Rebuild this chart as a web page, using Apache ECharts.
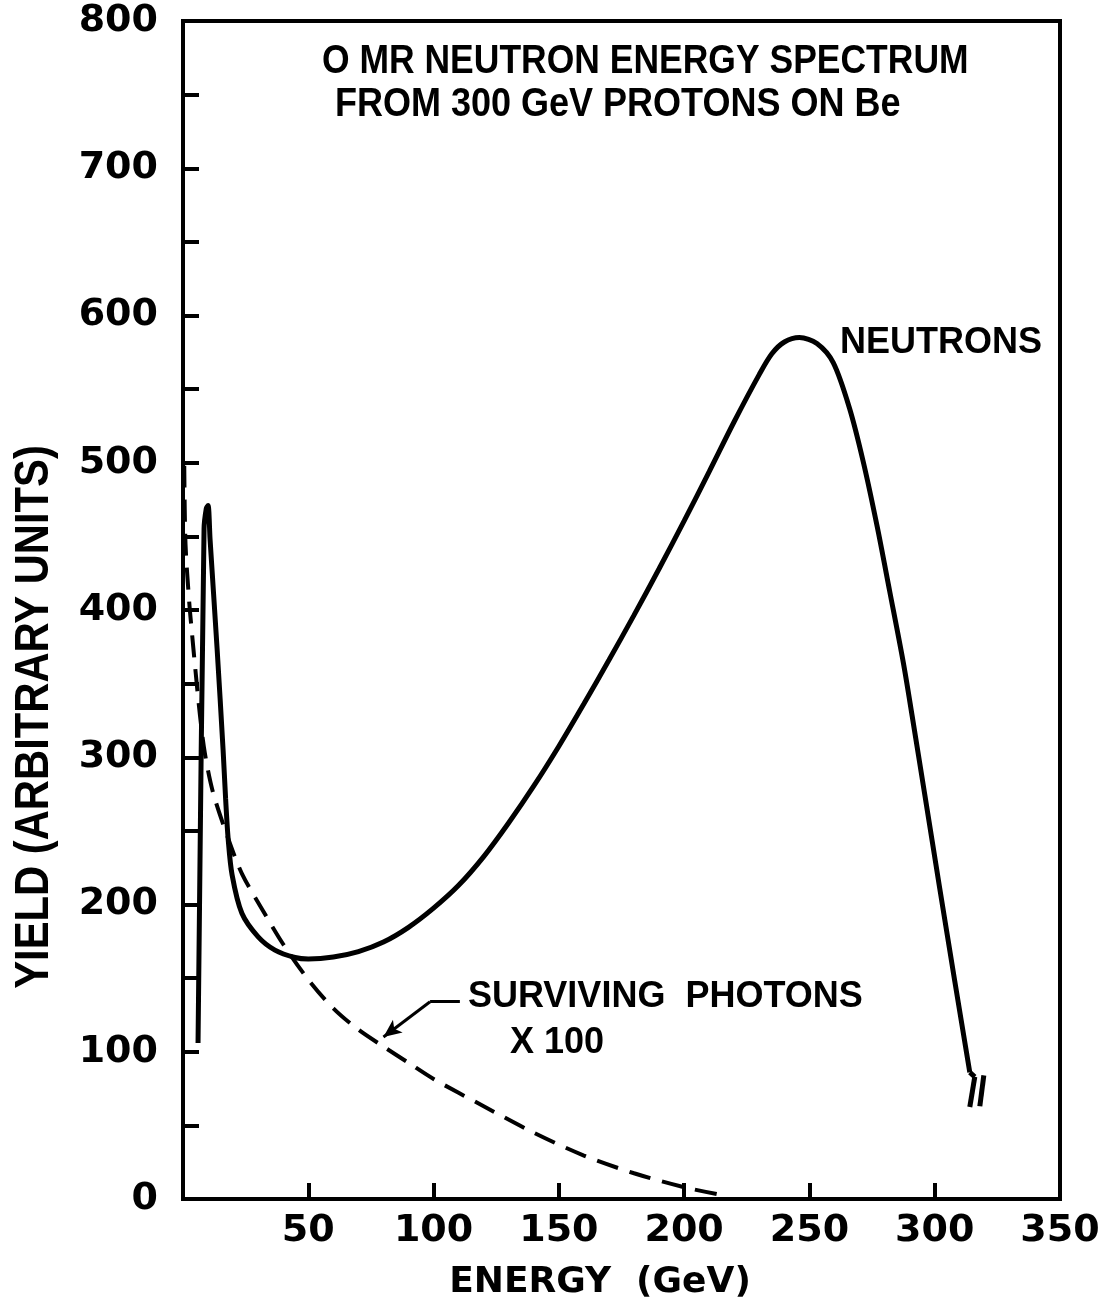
<!DOCTYPE html>
<html>
<head>
<meta charset="utf-8">
<title>0 MR neutron energy spectrum</title>
<script src="https://cdn.jsdelivr.net/npm/echarts@6/dist/echarts.min.js"></script>
<style>
  html, body { margin: 0; padding: 0; background: #fff; }
  #main { width: 1114px; height: 1307px; }
</style>
</head>
<body>
<div id="main"></div>
<script>
// values: energy (GeV) / yield (arbitrary units)
var neutronEnergy = [6, 8.4, 9.3, 10, 10.8, 13.6, 16, 17, 18, 19.6, 23.5, 30, 36.7, 44.7, 50, 60, 70, 80, 90, 100, 110, 120, 130, 140, 150, 160, 170, 180, 190, 200, 210, 220, 230, 235, 240, 246, 253, 259.5, 266, 271.5, 277, 282, 287.5, 291, 296, 302, 308, 314];
var neutronYield  = [106, 455, 469, 471, 448, 374, 305, 272, 245, 220, 194, 178, 169, 164, 163, 164.3, 168, 174.5, 184.5, 197.5, 213, 232.5, 255.5, 280.5, 307.5, 336.3, 366, 396.5, 428, 460.5, 494, 528, 560, 574, 582, 585, 581, 568, 537, 500.5, 457, 413, 364, 328, 275, 211, 148, 86];

// surviving photons x 100 (dashed)
var photonEnergy = [0.5, 1, 2.5, 3.6, 4.8, 6.8, 8.8, 12, 18, 23.5, 31.5, 40, 50, 60, 70, 80, 90, 100, 120, 140, 160, 180, 200, 214];
var photonYield  = [498, 445, 405, 384, 362, 328, 302, 276, 245, 221, 197, 173, 149, 129.5, 115, 103.5, 92.5, 81.5, 63, 45, 29.5, 17.5, 8, 3];

var xTickLabels = [50, 100, 150, 200, 250, 300, 350];
var yTickLabels = [0, 100, 200, 300, 400, 500, 600, 700, 800];

// the "//" break after the neutron curve, and the leader to the photon curve
var breakMarkA = [[316, 83], [314, 62.5]];
var breakMarkB = [[319.6, 84], [318, 63]];
var leaderPath = [[110.5, 134], [98.6, 134], [80, 110]];

function pairs(xs, ys) {
  return xs.map(function (x, i) { return [x, ys[i]]; });
}

var numFont = { color: '#000', fontFamily: 'DejaVu Sans', fontWeight: 'bold', fontSize: 38 };
var sansBold = '"Liberation Sans", "DejaVu Sans", sans-serif';

var myChart = echarts.init(document.getElementById('main'));

var option = {
  animation: false,
  backgroundColor: '#fff',
  grid: {
    left: 183, right: 54, top: 21, bottom: 108,
    show: true, borderColor: '#000', borderWidth: 4, backgroundColor: 'transparent'
  },
  xAxis: {
    type: 'value', min: 0, max: 350, interval: 50,
    splitLine: { show: false },
    axisLine: { lineStyle: { color: '#000', width: 4 } },
    axisTick: { inside: true, length: 16, lineStyle: { color: '#000', width: 4 } },
    axisLabel: Object.assign({
      margin: 13, showMaxLabel: true,
      formatter: function (v) { return xTickLabels.indexOf(v) >= 0 ? String(v) : ''; }
    }, numFont)
  },
  yAxis: {
    type: 'value', min: 0, max: 800, interval: 50,
    splitLine: { show: false },
    axisLine: { lineStyle: { color: '#000', width: 4 } },
    axisTick: { inside: true, length: 16, lineStyle: { color: '#000', width: 4 } },
    axisLabel: Object.assign({
      margin: 25,
      formatter: function (v) { return yTickLabels.indexOf(v) >= 0 ? String(v) : ''; }
    }, numFont)
  },
  series: [
    {
      name: 'NEUTRONS',
      type: 'line',
      data: pairs(neutronEnergy, neutronYield),
      smooth: 0.3,
      symbol: 'none',
      lineStyle: { color: '#000', width: 5 },
      markLine: {
        silent: true,
        symbol: ['none', 'none'],
        label: { show: false },
        lineStyle: { color: '#000', width: 5, type: 'solid' },
        data: [
          [{ coord: [neutronEnergy[neutronEnergy.length - 1], neutronYield[neutronYield.length - 1]] }, { coord: breakMarkA[0] }],
          [{ coord: breakMarkA[0] }, { coord: breakMarkA[1] }],
          [{ coord: breakMarkB[0] }, { coord: breakMarkB[1] }]
        ]
      }
    },
    {
      name: 'SURVIVING PHOTONS X 100',
      type: 'line',
      data: pairs(photonEnergy, photonYield),
      smooth: 0.3,
      symbol: 'none',
      lineStyle: { color: '#000', width: 4, type: [22, 12] },
      markLine: {
        silent: true,
        symbol: ['none', 'none'],
        label: { show: false },
        lineStyle: { color: '#000', width: 3, type: 'solid' },
        data: [
          [{ coord: leaderPath[0] }, { coord: leaderPath[1] }],
          [{ coord: leaderPath[1] }, { coord: leaderPath[2], symbol: 'arrow', symbolSize: [12, 18] }]
        ]
      }
    }
  ],
  graphic: [
    { type: 'text', x: 322, y: 62, scaleX: 0.887, style: { text: 'O MR NEUTRON ENERGY SPECTRUM', fill: '#000', font: 'bold 40px ' + sansBold, textVerticalAlign: 'middle' } },
    { type: 'text', x: 335, y: 105, scaleX: 0.9, style: { text: 'FROM 300 GeV PROTONS ON Be', fill: '#000', font: 'bold 40px ' + sansBold, textVerticalAlign: 'middle' } },
    { type: 'text', x: 840, y: 343, style: { text: 'NEUTRONS', fill: '#000', font: 'bold 36px ' + sansBold, textVerticalAlign: 'middle' } },
    { type: 'text', x: 468, y: 997, style: { text: 'SURVIVING  PHOTONS', fill: '#000', font: 'bold 36px ' + sansBold, textVerticalAlign: 'middle' } },
    { type: 'text', x: 510, y: 1043, style: { text: 'X 100', fill: '#000', font: 'bold 36px ' + sansBold, textVerticalAlign: 'middle' } },
    { type: 'text', x: 600, y: 1283, style: { text: 'ENERGY  (GeV)', fill: '#000', font: 'bold 36px "DejaVu Sans", sans-serif', textAlign: 'center', textVerticalAlign: 'middle' } },
    { type: 'text', x: 35, y: 717, rotation: Math.PI / 2, scaleX: 0.87, style: { text: 'YIELD (ARBITRARY UNITS)', fill: '#000', font: 'bold 48px ' + sansBold, textAlign: 'center', textVerticalAlign: 'middle' } }
  ]
};

myChart.setOption(option);
</script>
</body>
</html>
